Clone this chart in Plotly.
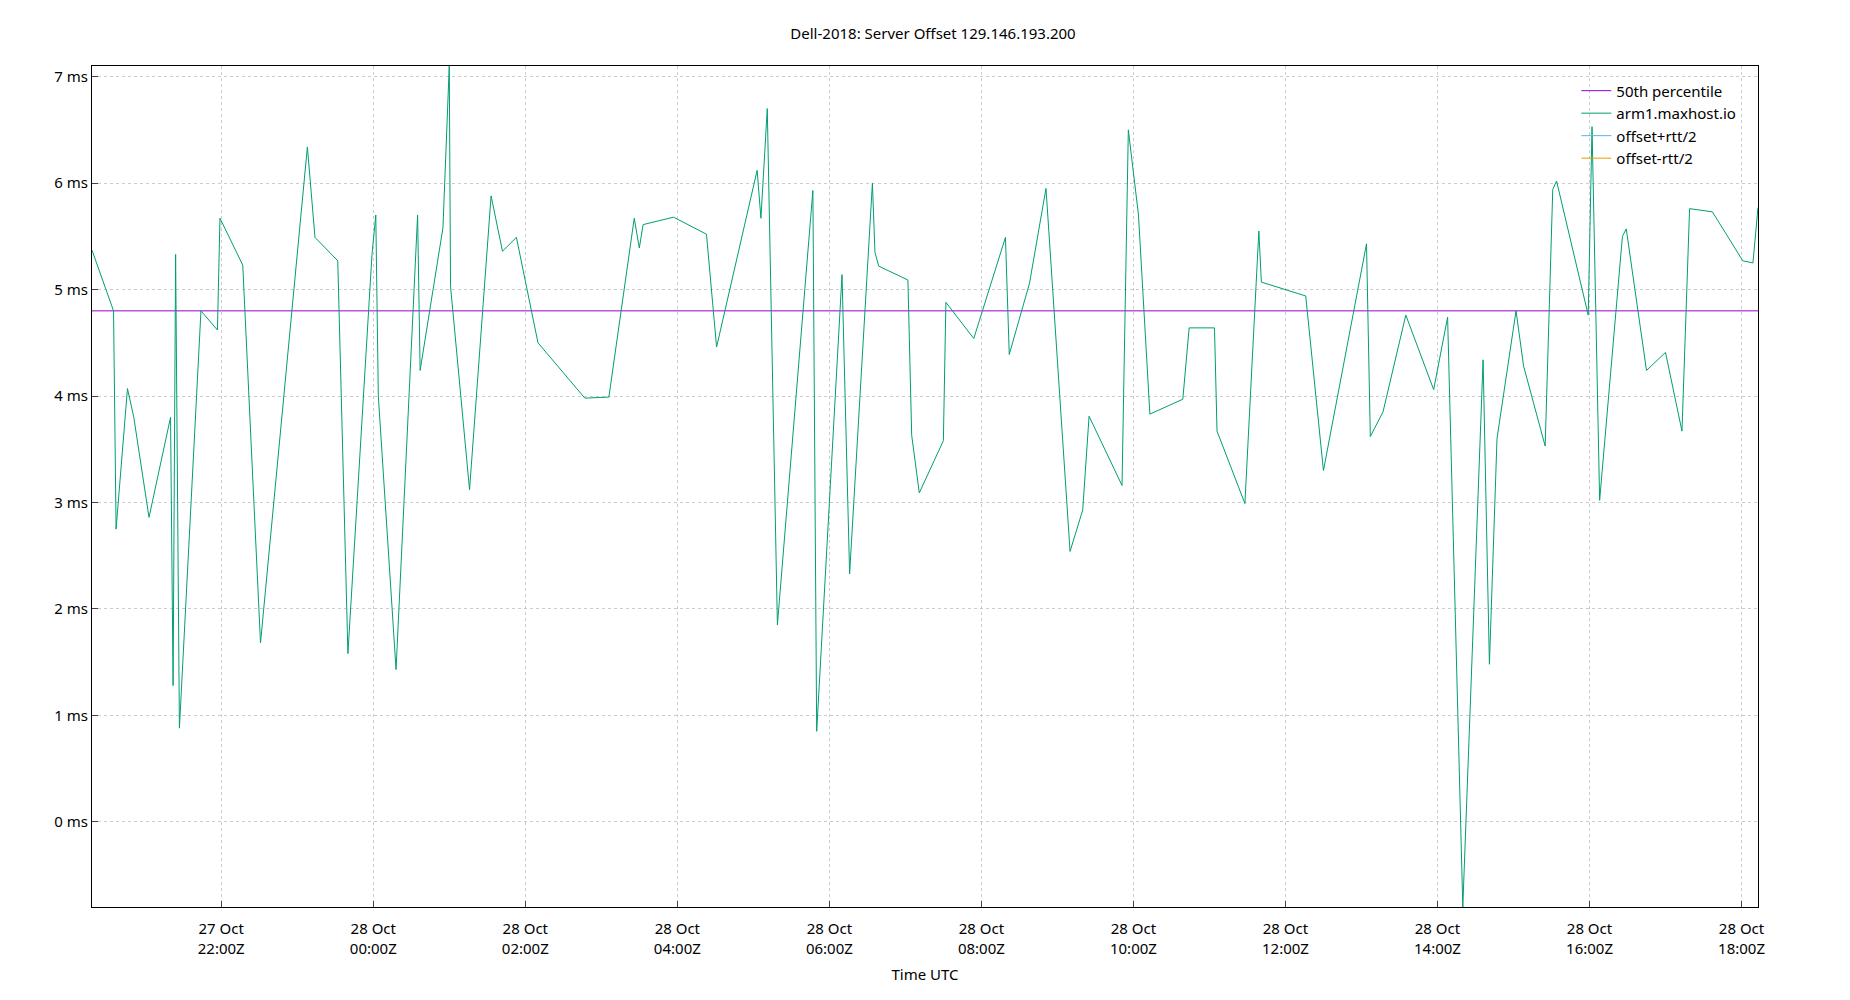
import plotly.graph_objects as go
import pandas as pd

base = pd.Timestamp("2018-10-27 20:18")
minutes = [0,17,19,28,33,45,62,64,66,69,86,99,101,119,133,170,176,194,202,221,224,226,240,257,259,277,282,283,298,315,324,335,352,389,408,428,432,435,459,485,493,525,528,533,541,569,572,592,598,616,618,621,644,647,653,672,674,696,721,724,740,753,772,782,787,813,818,826,835,861,866,886,888,910,921,923,958,972,1006,1009,1019,1037,1059,1070,1082,1098,1103,1109,1124,1130,1147,1153,1156,1181,1184,1190,1208,1211,1227,1242,1255,1261,1279,1303,1311,1315]
offset_ms = [5.37,4.8,2.75,4.07,3.8,2.86,3.8,1.28,5.33,0.88,4.8,4.62,5.67,5.23,1.68,6.34,5.49,5.27,1.58,5.33,5.7,4.0,1.43,5.7,4.24,5.58,7.1,5.03,3.12,5.88,5.36,5.49,4.5,3.98,3.99,5.67,5.39,5.61,5.68,5.52,4.46,6.12,5.67,6.7,1.85,5.93,0.85,5.14,2.33,6.0,5.35,5.22,5.09,3.63,3.09,3.58,4.88,4.54,5.49,4.39,5.06,5.95,2.54,2.93,3.81,3.16,6.5,5.7,3.83,3.97,4.64,4.64,3.67,2.99,5.55,5.07,4.94,3.3,5.43,3.62,3.85,4.76,4.06,4.74,-0.8,4.34,1.48,3.6,4.8,4.28,3.53,5.94,6.02,4.76,6.53,3.02,5.5,5.57,4.24,4.41,3.67,5.76,5.73,5.27,5.25,5.77]
median_ms = 4.8
tick_times = ["2018-10-27 22:00","2018-10-28 00:00","2018-10-28 02:00","2018-10-28 04:00","2018-10-28 06:00","2018-10-28 08:00","2018-10-28 10:00","2018-10-28 12:00","2018-10-28 14:00","2018-10-28 16:00","2018-10-28 18:00"]
tick_labels = ["27 Oct<br>22:00Z"] + ["28 Oct<br>%s" % t[-5:] + "Z" for t in tick_times[1:]]
y_ticks = [0,1,2,3,4,5,6,7]

times = [base + pd.Timedelta(minutes=m) for m in minutes]
x0, x1 = times[0], times[-1]

fig = go.Figure()
fig.add_trace(go.Scatter(x=[x0, x1], y=[median_ms, median_ms], mode="lines",
                         line=dict(color="#9400d3", width=1), name="50th percentile"))
fig.add_trace(go.Scatter(x=times, y=offset_ms, mode="lines",
                         line=dict(color="#009e73", width=1), name="arm1.maxhost.io"))
fig.add_trace(go.Scatter(x=[None], y=[None], mode="lines",
                         line=dict(color="#56b4e9", width=1), name="offset+rtt/2"))
fig.add_trace(go.Scatter(x=[None], y=[None], mode="lines",
                         line=dict(color="#e69f00", width=1), name="offset-rtt/2"))

fig.update_layout(
    width=1850, height=1000, autosize=False,
    paper_bgcolor="white", plot_bgcolor="white",
    font=dict(family="Noto Sans", size=15, color="black"),
    title=dict(text="Dell-2018: Server Offset 129.146.193.200", x=0.5, y=0.98, font=dict(size=15)),
    margin=dict(l=84, r=100, t=58, b=101),
    showlegend=True,
    legend=dict(x=0.99, y=0.99, xanchor="right", yanchor="top", bgcolor="rgba(0,0,0,0)",
                font=dict(size=15), tracegroupgap=0),
    xaxis=dict(range=[x0, x1], tickvals=tick_times, ticktext=tick_labels,
               showgrid=True, gridcolor="#cccccc", griddash="dot", gridwidth=1,
               showline=True, linecolor="black", mirror=True, ticks="inside", ticklen=6,
               ticklabelstandoff=8,
               title=dict(text="Time UTC", font=dict(size=15), standoff=12), zeroline=False),
    yaxis=dict(range=[-0.8, 7.1], tickvals=y_ticks, ticktext=["%d ms" % v for v in y_ticks],
               showgrid=True, gridcolor="#cccccc", griddash="dot", gridwidth=1,
               showline=True, linecolor="black", mirror=True, ticks="inside", ticklen=6,
               zeroline=False),
)
fig.write_html("out.html")
